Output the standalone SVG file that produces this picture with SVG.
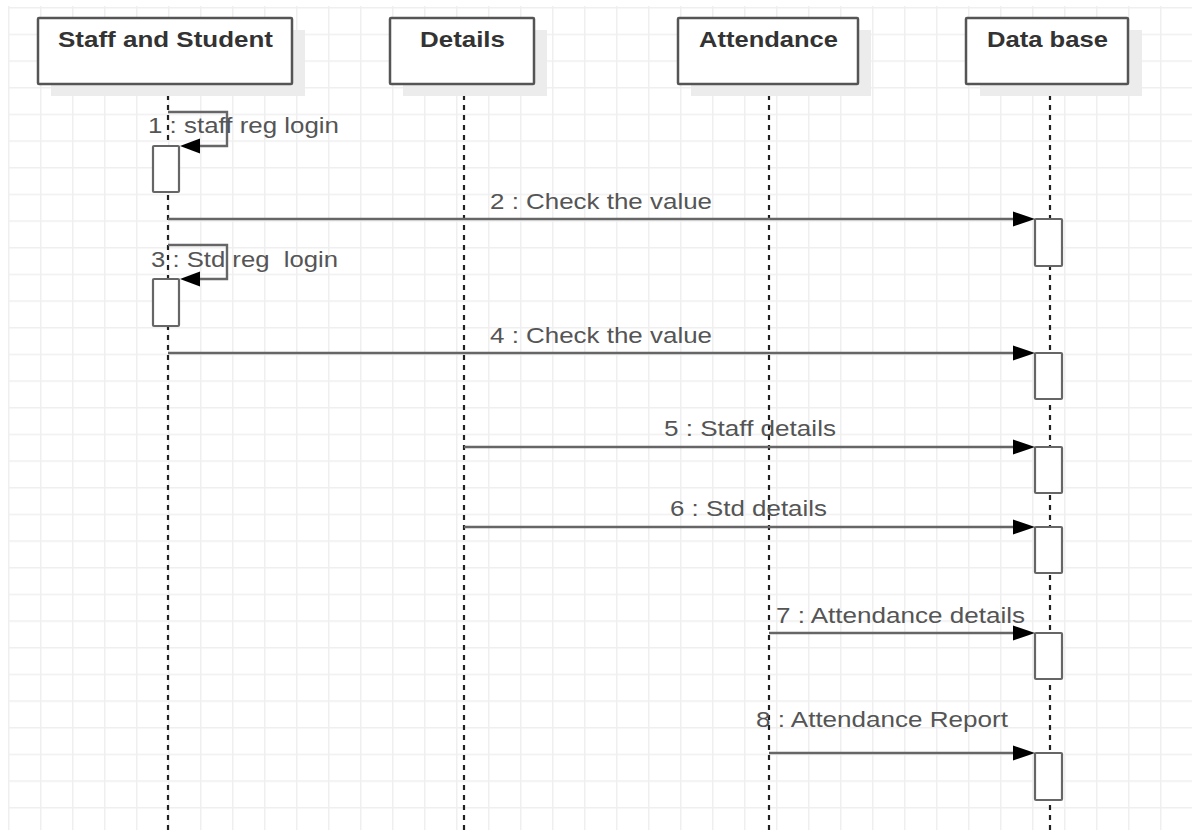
<svg xmlns="http://www.w3.org/2000/svg" width="1192" height="830" viewBox="0 0 1192 830">
<style>
.grid{stroke:#efefef;stroke-width:1.5;fill:none}
.shadow{fill:#ececec}
.box{fill:#fff;stroke:#555;stroke-width:2.5}
.title{font-family:"Liberation Sans",Arial,sans-serif;font-weight:bold;font-size:21.5px;fill:#333;text-anchor:start}
.life{stroke:#222;stroke-width:2.2;stroke-dasharray:5 5;fill:none}
.msg{stroke:#666;stroke-width:2.4;fill:none}
.act{fill:#fff;stroke:#666;stroke-width:2.2}
.lbl{font-family:"Liberation Sans",Arial,sans-serif;font-size:21.5px;fill:#555}
.head{fill:#000}
</style>
<defs>
<pattern id="gp" x="8" y="7" width="32" height="26.667" patternUnits="userSpaceOnUse">
<path class="grid" d="M0.75,0 V26.667 M0,0.75 H32"/>
</pattern>
</defs>
<rect width="1192" height="830" fill="#fff"/>
<rect x="8" y="6" width="1184" height="824" fill="url(#gp)"/>

<g id="lifelines">
<line class="life" x1="168" y1="85" x2="168" y2="830"/>
<line class="life" x1="464" y1="85" x2="464" y2="830"/>
<line class="life" x1="769" y1="85" x2="769" y2="830"/>
<line class="life" x1="1050" y1="85" x2="1050" y2="830"/>
</g>

<g id="node-staff">
<rect class="shadow" x="51" y="30" width="254" height="66"/>
<rect class="box" x="38" y="18" width="254" height="66" rx="1"/>
<text class="title" x="58" y="47" textLength="215" lengthAdjust="spacingAndGlyphs">Staff and Student</text>
</g>
<g id="node-details">
<rect class="shadow" x="403" y="30" width="144" height="66"/>
<rect class="box" x="390" y="18" width="144" height="66" rx="1"/>
<text class="title" x="420" y="47" textLength="85" lengthAdjust="spacingAndGlyphs">Details</text>
</g>
<g id="node-attendance">
<rect class="shadow" x="691" y="30" width="180" height="66"/>
<rect class="box" x="678" y="18" width="180" height="66" rx="1"/>
<text class="title" x="699" y="47" textLength="139" lengthAdjust="spacingAndGlyphs">Attendance</text>
</g>
<g id="node-database">
<rect class="shadow" x="980" y="30" width="162" height="66"/>
<rect class="box" x="966" y="18" width="162" height="66" rx="1"/>
<text class="title" x="987" y="47" textLength="121" lengthAdjust="spacingAndGlyphs">Data base</text>
</g>

<g id="activations">
<rect class="act" x="153" y="146" width="26" height="46" rx="1"/>
<rect class="act" x="153" y="279" width="26" height="47" rx="1"/>
<rect class="act" x="1035" y="219" width="27" height="47" rx="1"/>
<rect class="act" x="1035" y="353" width="27" height="46" rx="1"/>
<rect class="act" x="1035" y="447" width="27" height="46" rx="1"/>
<rect class="act" x="1035" y="527" width="27" height="46" rx="1"/>
<rect class="act" x="1035" y="633" width="27" height="46" rx="1"/>
<rect class="act" x="1035" y="753" width="27" height="47" rx="1"/>
</g>

<g id="connectors">
<path class="msg" d="M168,112 H227 V146 H190"/>
<polygon class="head" points="180,146 200,138.5 200,153.5"/>
<path class="msg" d="M168,245 H227 V279 H190"/>
<polygon class="head" points="180,279 200,271.5 200,286.5"/>

<line class="msg" x1="168" y1="219" x2="1025" y2="219"/>
<polygon class="head" points="1035,219 1013,211.5 1013,226.5"/>
<line class="msg" x1="168" y1="353" x2="1025" y2="353"/>
<polygon class="head" points="1035,353 1013,345.5 1013,360.5"/>
<line class="msg" x1="464" y1="447" x2="1025" y2="447"/>
<polygon class="head" points="1035,447 1013,439.5 1013,454.5"/>
<line class="msg" x1="464" y1="527" x2="1025" y2="527"/>
<polygon class="head" points="1035,527 1013,519.5 1013,534.5"/>
<line class="msg" x1="769" y1="633" x2="1025" y2="633"/>
<polygon class="head" points="1035,633 1013,625.5 1013,640.5"/>
<line class="msg" x1="769" y1="753" x2="1025" y2="753"/>
<polygon class="head" points="1035,753 1013,745.5 1013,760.5"/>
</g>

<g id="labels">
<text class="lbl" x="148" y="133" textLength="191" lengthAdjust="spacingAndGlyphs">1 : staff reg login</text>
<text class="lbl" x="490" y="209" textLength="222" lengthAdjust="spacingAndGlyphs">2 : Check the value</text>
<text class="lbl" x="151" y="267" textLength="187" lengthAdjust="spacingAndGlyphs" xml:space="preserve">3 : Std reg  login</text>
<text class="lbl" x="490" y="343" textLength="222" lengthAdjust="spacingAndGlyphs">4 : Check the value</text>
<text class="lbl" x="664" y="436" textLength="172" lengthAdjust="spacingAndGlyphs">5 : Staff details</text>
<text class="lbl" x="670" y="516" textLength="157" lengthAdjust="spacingAndGlyphs">6 : Std details</text>
<text class="lbl" x="776" y="623" textLength="249" lengthAdjust="spacingAndGlyphs">7 : Attendance details</text>
<text class="lbl" x="756" y="727" textLength="252" lengthAdjust="spacingAndGlyphs">8 : Attendance Report</text>
</g>
</svg>
